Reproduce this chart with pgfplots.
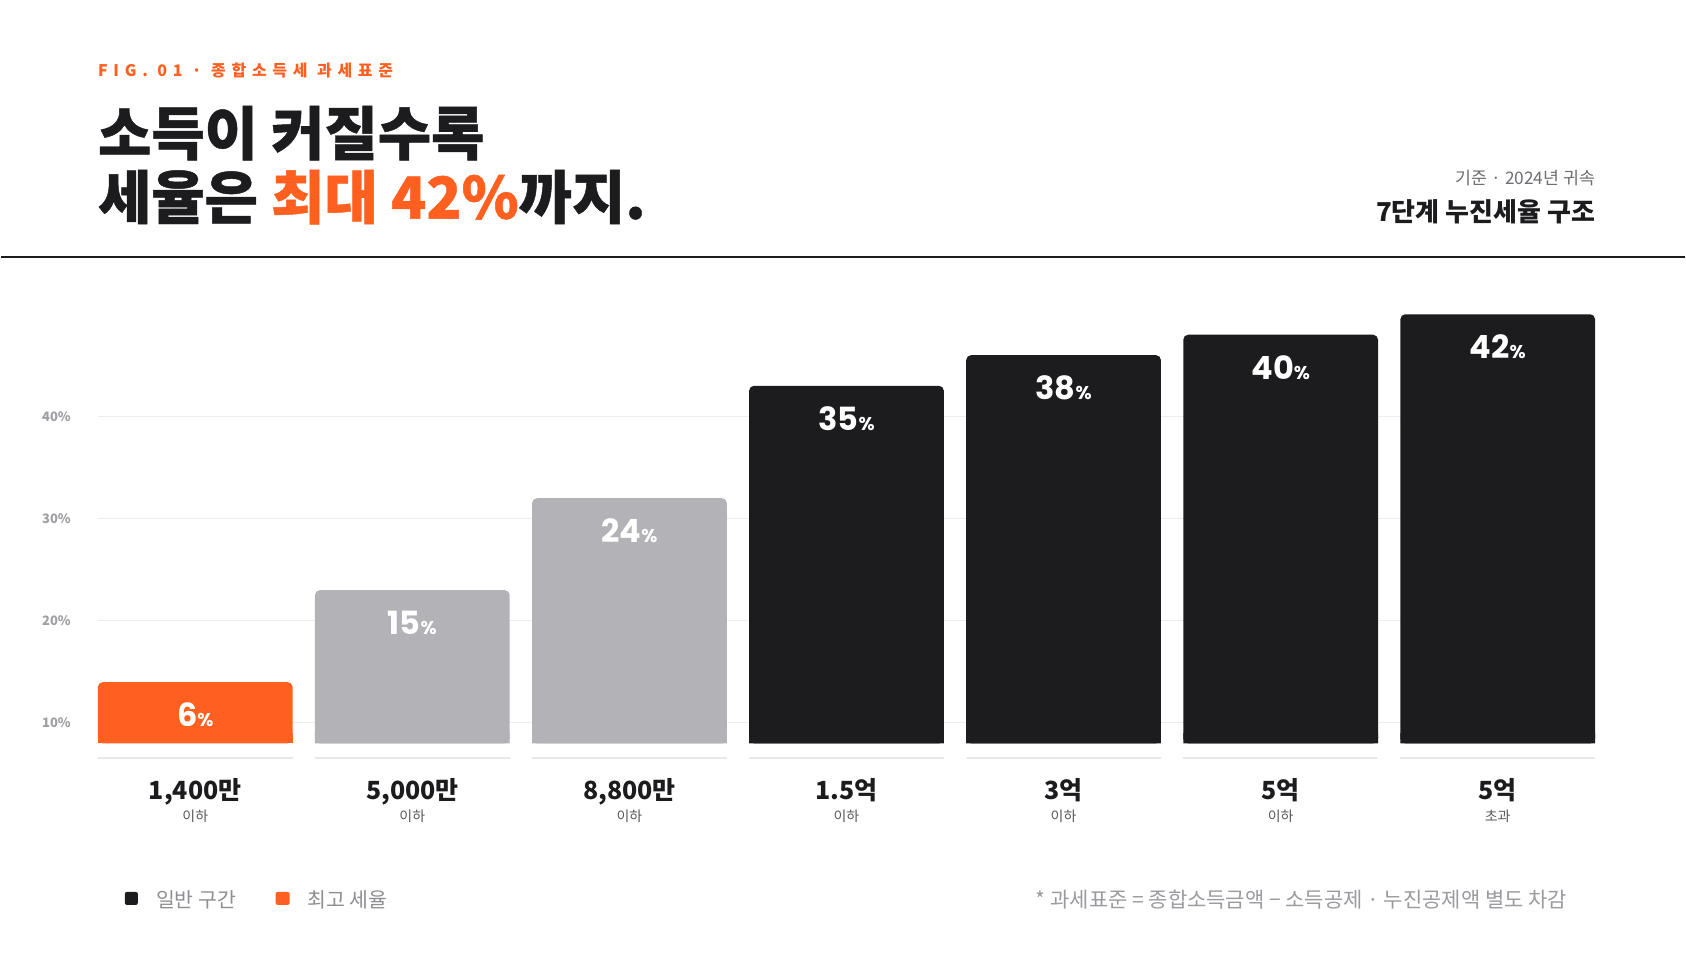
\documentclass[border=0pt]{standalone}
\usepackage{fontspec}
\setmainfont{Noto Sans CJK KR}
\newfontfamily\krsp[LetterSpace=36]{Noto Sans CJK KR}
\newfontfamily\krheavy[BoldFeatures={FakeBold=0.8}]{Noto Sans CJK KR}
\newfontfamily\pop{Poppins}
\usepackage{pgfplots}
\pgfplotsset{compat=1.18}
\definecolor{orng}{HTML}{FF5F1F}
\definecolor{ink}{HTML}{1C1C1E}
\definecolor{barg}{HTML}{B3B3B7}
\definecolor{tickc}{HTML}{9E9EA4}
\definecolor{legc}{HTML}{8E8E93}
\definecolor{footc}{HTML}{9A9AA0}
\definecolor{subc}{HTML}{58585C}
\definecolor{hdrc}{HTML}{6E6E73}
\definecolor{gridc}{HTML}{EDEDEA}
\definecolor{sepc}{HTML}{E8E8E6}
\newcommand\fs[1]{\fontsize{#1pt}{#1pt}\selectfont}
\newcommand\catlabel[2]{\makebox[0pt]{\fs{25}\bfseries\color{ink}#1}\makebox[0pt]{\raisebox{-21.5pt}{\fs{14}\color{subc}#2}}}
\pgfplotsset{
  valbar/.style={ybar, bar width=195pt, bar shift=0pt, draw=none, rounded corners=5pt,
    point meta=y,
    /pgf/number format/assume math mode=true,
    nodes near coords={\pop\bfseries\fs{32}\pgfmathprintnumber{\pgfplotspointmeta}\fs{18.5}\%},
    every node near coord/.append style={anchor=base, yshift=-44.7pt, text=white, inner sep=0pt}},
  basebar/.style={ybar, bar width=195pt, bar shift=0pt, draw=none},
}
\begin{document}
\begin{tikzpicture}[x=1pt,y=1pt]
\fill[white] (0,0) rectangle (1686,957);
\node[anchor=base west, inner sep=0pt, text=orng] at (97,880.3) {\krsp\bfseries\fs{16}FIG. 01 · 종합소득세 과세표준};
\node[anchor=base west, inner sep=0pt, text=ink] at (97,802) {\krheavy\bfseries\fs{58}소득이 커질수록};
\node[anchor=base west, inner sep=0pt, text=ink] at (97,738) {\krheavy\bfseries\fs{58}세율은 \textcolor{orng}{최대 42\%}까지.};
\node[anchor=base east, inner sep=0pt, text=hdrc] at (1596,772) {\fs{17.3}기준 · 2024년 귀속};
\node[anchor=base east, inner sep=0pt, text=ink] at (1596,735) {\bfseries\fs{26}7단계 누진세율 구조};
\draw[ink, line width=2pt] (0,700) -- (1686,700);
\begin{axis}[
  at={(97pt,212.7pt)}, anchor=south west,
  scale only axis, width=1499pt, height=460.35pt,
  xmin=-0.4486, xmax=6.4486, ymin=0, ymax=45,
  axis line style={draw=none}, tick style={draw=none},
  clip=false,
  ytick={2,12,22,32}, yticklabels={10\%,20\%,30\%,40\%},
  ymajorgrids, grid style={gridc, line width=1pt},
  yticklabel style={anchor=west, xshift=-56pt, inner sep=0pt, text=tickc, font=\bfseries\fs{13}},
  xtick={0,1,2,3,4,5,6},
  xticklabels={{\catlabel{1,400만}{이하}},{\catlabel{5,000만}{이하}},{\catlabel{8,800만}{이하}},{\catlabel{1.5억}{이하}},{\catlabel{3억}{이하}},{\catlabel{5억}{이하}},{\catlabel{5억}{초과}}},
  xticklabel style={anchor=base, yshift=-56.5pt, inner sep=0pt},
]
\addplot[valbar, fill=orng] coordinates {(0,6)};
\addplot[valbar, fill=barg] coordinates {(1,15) (2,24)};
\addplot[valbar, fill=ink] coordinates {(3,35) (4,38) (5,40) (6,42)};
\addplot[basebar, fill=orng] coordinates {(0,1)};
\addplot[basebar, fill=barg] coordinates {(1,1) (2,1)};
\addplot[basebar, fill=ink] coordinates {(3,1) (4,1) (5,1) (6,1)};
\pgfplotsinvokeforeach{0,...,6}{
  \draw[sepc, line width=1.5pt] ([xshift=-97.5pt,yshift=-14.7pt]axis cs:#1,0) -- ([xshift=97.5pt,yshift=-14.7pt]axis cs:#1,0);
}
\end{axis}
\fill[ink, rounded corners=2pt] (124,51) rectangle (137,64);
\node[anchor=base west, inner sep=0pt, text=legc] at (155,48) {\fs{20.5}일반 구간};
\fill[orng, rounded corners=2pt] (275,51) rectangle (289,64);
\node[anchor=base west, inner sep=0pt, text=legc] at (306.7,48) {\fs{20.5}최고 세율};
\node[anchor=base east, inner sep=0pt, text=footc] at (1568,48) {\fs{21}* 과세표준 = 종합소득금액 − 소득공제 · 누진공제액 별도 차감};
\end{tikzpicture}
\end{document}
